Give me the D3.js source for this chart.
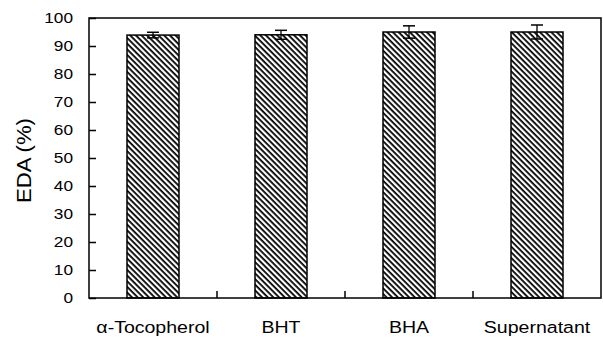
<!DOCTYPE html>
<html>
<head>
<meta charset="utf-8">
<script src="https://cdn.jsdelivr.net/npm/d3@7"></script>
<style>
  body { margin: 0; background: #fff; }
  text { font-family: "Liberation Sans", Arial, sans-serif; fill: #000; }
</style>
</head>
<body>
<script>
const categories = ['α-Tocopherol', 'BHT', 'BHA', 'Supernatant'];
const values = [93.9, 94.0, 95.0, 95.0];
const errors = [1.0, 1.6, 2.2, 2.5];
const yTicks = [0, 10, 20, 30, 40, 50, 60, 70, 80, 90, 100];

function drawViz() {
  const W = 603, H = 339;
  const margin = {top: 18, right: 2, bottom: 41, left: 89};
  const stretch = 1.15; // text in the scan is a bit wide

  const svg = d3.select('body').append('svg')
    .attr('width', W).attr('height', H);

  // hatch fill for the bars
  const pat = svg.append('defs').append('pattern')
    .attr('id', 'hatch')
    .attr('patternUnits', 'userSpaceOnUse')
    .attr('width', 4).attr('height', 4)
    .attr('patternTransform', 'rotate(45)');
  pat.append('rect').attr('width', 4).attr('height', 4).attr('fill', '#fff');
  pat.append('line')
    .attr('x1', 0).attr('y1', 0).attr('x2', 4).attr('y2', 0)
    .attr('stroke', '#000').attr('stroke-width', 3.6);

  const x = d3.scaleBand()
    .domain(categories)
    .range([margin.left, W - margin.right])
    .paddingInner(0).paddingOuter(0);

  const y = d3.scaleLinear()
    .domain([0, 100])
    .range([H - margin.bottom, margin.top]);

  const g = svg.append('g');
  const barW = 52;

  // bars
  g.selectAll('rect.bar')
    .data(categories)
    .join('rect')
    .attr('class', 'bar')
    .attr('x', d => x(d) + x.bandwidth() / 2 - barW / 2)
    .attr('y', (d, i) => y(values[i]))
    .attr('width', barW)
    .attr('height', (d, i) => y(0) - y(values[i]))
    .attr('fill', 'url(#hatch)')
    .attr('stroke', '#000')
    .attr('stroke-width', 1.5);

  // error bars
  const cx = d => x(d) + x.bandwidth() / 2;
  const eb = g.selectAll('g.err').data(categories).join('g').attr('class', 'err');
  eb.append('line')
    .attr('x1', cx).attr('x2', cx)
    .attr('y1', (d, i) => y(values[i] + errors[i]))
    .attr('y2', (d, i) => y(values[i] - errors[i]))
    .attr('stroke', '#000').attr('stroke-width', 1.3);
  [1, -1].forEach(s => {
    eb.append('line')
      .attr('x1', d => cx(d) - 6)
      .attr('x2', d => cx(d) + 6)
      .attr('y1', (d, i) => y(values[i] + s * errors[i]))
      .attr('y2', (d, i) => y(values[i] + s * errors[i]))
      .attr('stroke', '#000').attr('stroke-width', 1.5);
  });

  // frame
  svg.append('rect')
    .attr('x', margin.left).attr('y', margin.top)
    .attr('width', W - margin.right - margin.left)
    .attr('height', H - margin.bottom - margin.top)
    .attr('fill', 'none').attr('stroke', '#000').attr('stroke-width', 1.5);

  // y axis, ticks inward
  const yAxis = svg.append('g')
    .attr('transform', `translate(${margin.left},0)`)
    .call(d3.axisLeft(y).tickValues(yTicks).tickSizeInner(-7).tickSizeOuter(0).tickFormat(() => ''));
  yAxis.select('.domain').remove();
  yAxis.selectAll('line').attr('stroke-width', 1.5);

  svg.append('g').selectAll('text')
    .data(yTicks)
    .join('text')
    .attr('transform', d => `translate(73,${y(d)}) scale(${stretch},1)`)
    .attr('dy', '0.36em')
    .attr('text-anchor', 'end')
    .attr('font-size', 15)
    .text(d => d);

  // x axis: ticks at category boundaries, pointing up
  const bounds = categories.slice(1).map(c => x(c));
  svg.append('g').selectAll('line')
    .data(bounds)
    .join('line')
    .attr('x1', d => d).attr('x2', d => d)
    .attr('y1', y(0)).attr('y2', y(0) - 7)
    .attr('stroke', '#000').attr('stroke-width', 1.5);

  svg.append('g').selectAll('text')
    .data(categories)
    .join('text')
    .attr('transform', d => `translate(${cx(d)},333) scale(${stretch},1)`)
    .attr('text-anchor', 'middle')
    .attr('font-size', 17)
    .text(d => d);

  svg.append('text')
    .attr('transform', 'translate(31,160.5) rotate(-90)')
    .attr('text-anchor', 'middle')
    .attr('font-size', 20)
    .attr('textLength', 85)
    .attr('lengthAdjust', 'spacingAndGlyphs')
    .text('EDA (%)');
}

drawViz();
</script>
</body>
</html>
